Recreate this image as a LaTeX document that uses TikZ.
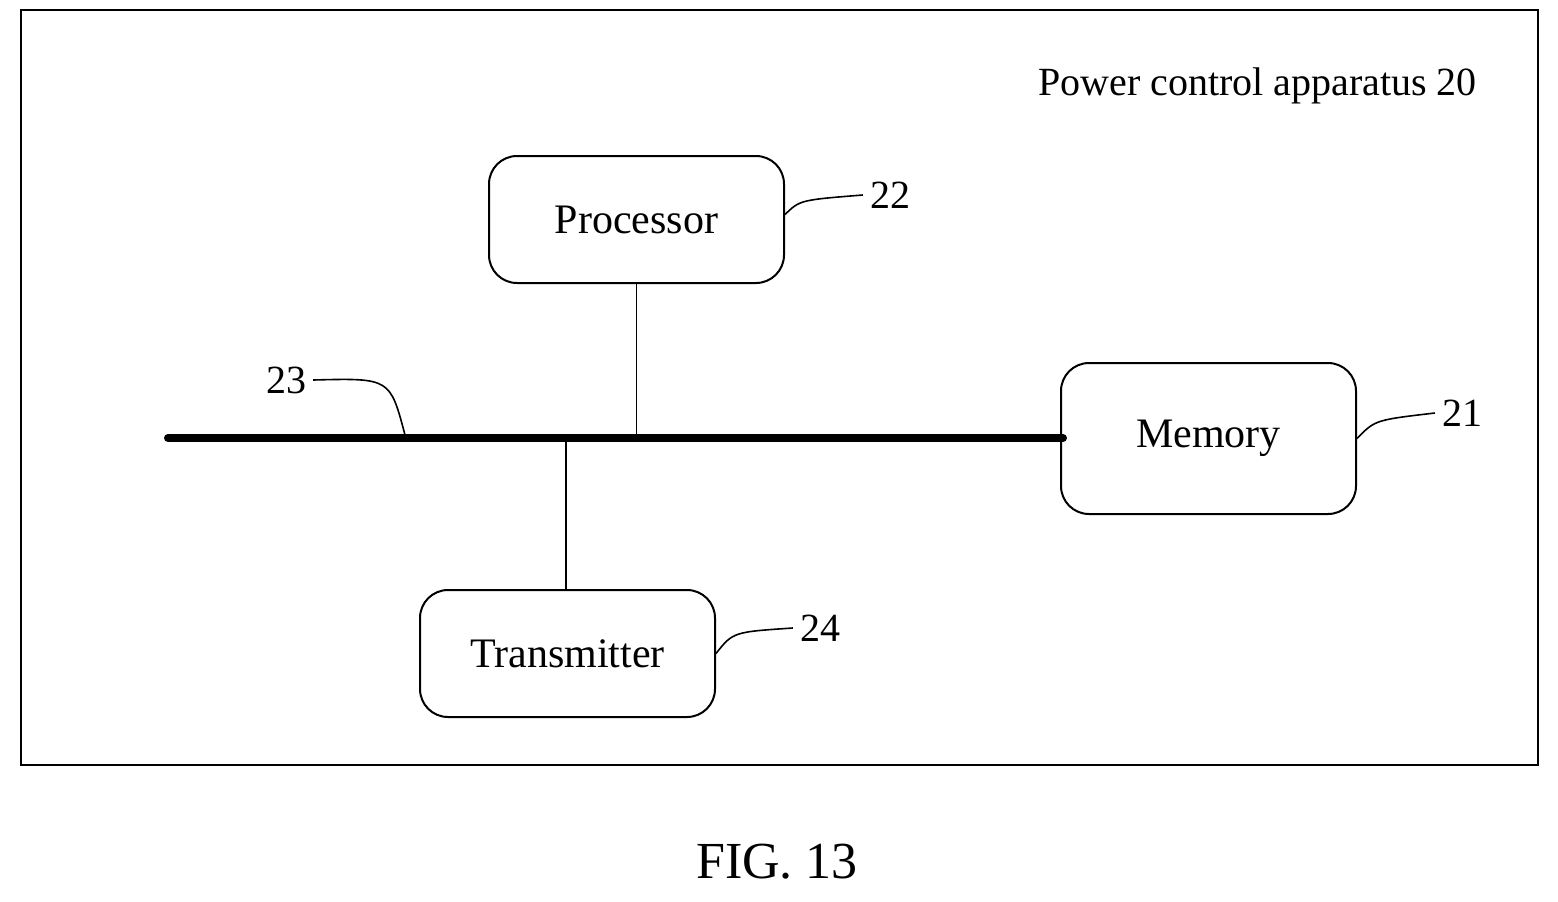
\documentclass[tikz,border=0pt]{standalone}
\usepackage{fontspec}
\setmainfont{Liberation Serif}
\usetikzlibrary{positioning}
\tikzset{
  block/.style={draw,line width=1pt,rounded corners=14pt,minimum width=147.5pt,minimum height=63.5pt,font=\fontsize{21}{24}\selectfont},
  tag/.style={font=\fontsize{20}{24}\selectfont},
  lead/.style={line width=0.8pt}
}
\begin{document}
\begin{tikzpicture}[x=0.5pt,y=-0.5pt]
    \useasboundingbox (0,0) rectangle (1558,901);
    % Frame
    \draw[line width=1pt] (21,10) rectangle (1538,765);
    \node[tag,anchor=east] (title) at (1484,86) {Power control apparatus 20};
    % Blocks
    \node[block] (proc) at (636.5,219.5) {Processor};
    \node[block,minimum height=75.5pt] (mem) at (1208.5,438.5) {Memory};
    \node[block] (trans) at (567.5,653.5) {Transmitter};
    % Bus
    \coordinate (busL) at (168,438);
    \coordinate (busR) at (1063,438);
    \draw[line width=4pt,line cap=round] (busL) -- (busR);
    \coordinate (tapP) at (proc.south |- busL);
    \coordinate (tapT) at (566,438);
    \draw[lead] (proc.south) -- (tapP);
    \draw[lead] (tapT) -- (tapT |- trans.north);
    % Reference numerals
    \node[tag] (n22) at (890,195) {22};
    \node[tag] (n21) at (1462,413) {21};
    \node[tag] (n24) at (820,628) {24};
    \node[tag] (n23) at (286,380) {23};
    \draw[lead] (proc.east) ++(0,-5) .. controls (800,200) .. (n22.west);
    \draw[lead] (mem.east) .. controls (1375,420) .. (n21.west);
    \draw[lead] (trans.east) .. controls (733,632) .. (n24.west);
    \coordinate (bus23) at (405,435);
    \draw[lead] (n23.east) .. controls (390,378) .. (bus23);
    % Caption
    \node[font=\fontsize{26}{30}\selectfont] (fig) at (777,862) {FIG. 13};
\end{tikzpicture}
\end{document}
